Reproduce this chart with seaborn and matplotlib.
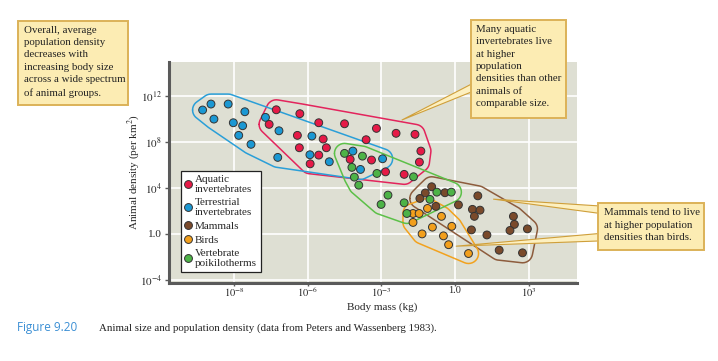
import numpy as np
import pandas as pd
import matplotlib.pyplot as plt
import matplotlib.patches as mpatches
import seaborn as sns

# values: log10 body mass (kg), log10 density (per km^2)
aquatic_mass = [-7.28, -6.32, -7.57, -5.55, -4.50, -3.20, -2.40, -1.63, -6.42, -5.37, -3.62,
                -6.34, -5.24, -5.55, -5.90, -4.27, -3.40, -1.39, -1.45, -2.83, -2.07]
aquatic_dens = [10.80, 10.46, 9.53, 9.67, 9.58, 9.18, 8.75, 8.66, 8.57, 8.25, 8.19,
                7.49, 7.49, 6.85, 6.09, 6.48, 6.42, 7.20, 6.24, 5.39, 5.17]

terrestrial_mass = [-10.28, -9.94, -9.24, -9.82, -8.56, -9.03, -8.65, -8.81, -8.31, -7.72, -7.17,
                    -7.22, -5.83, -5.91, -5.12, -4.16, -3.85, -2.95]
terrestrial_dens = [10.78, 11.30, 11.30, 9.99, 10.63, 9.67, 9.41, 8.57, 7.79, 10.14, 8.97,
                    6.65, 8.51, 6.88, 6.27, 7.20, 5.60, 6.53]

mammal_mass = [-0.95, -1.21, -0.41, -1.43, -0.78, 0.14, 0.93, 0.71, 1.02, 0.79, 2.38, 2.42,
               2.24, 2.95, 0.67, 1.30, 1.80, 2.75]
mammal_dens = [4.09, 3.55, 3.57, 3.07, 2.38, 2.51, 3.30, 2.12, 2.05, 1.51, 1.51, 0.81,
               0.28, 0.42, 0.33, -0.11, -1.44, -1.67]

bird_mass = [-1.71, -1.46, -1.12, -1.71, -0.55, -0.92, -0.13, -1.34, -0.47, -0.26, 0.55]
bird_dens = [1.76, 1.76, 2.20, 0.98, 1.51, 0.57, 0.64, -0.02, -0.19, -0.96, -1.73]

poikilo_mass = [-4.50, -3.77, -4.20, -4.10, -3.92, -3.18, -1.69, -2.73, -2.07, -3.01, -0.74,
                -0.15, -1.02, -1.96]
poikilo_dens = [7.00, 6.76, 5.78, 4.93, 4.23, 5.25, 4.96, 3.36, 2.69, 2.55, 3.62,
                3.62, 2.99, 1.76]

groups = ['Aquatic invertebrates', 'Terrestrial invertebrates', 'Mammals', 'Birds',
          'Vertebrate poikilotherms']
legend_labels = ['Aquatic\ninvertebrates', 'Terrestrial\ninvertebrates', 'Mammals', 'Birds',
                 'Vertebrate\npoikilotherms']
point_colors = ['#e61a47', '#1b98d3', '#7a4a2b', '#f29f1c', '#4db347']
line_colors = ['#e3245c', '#2a9fd8', '#8d5c3d', '#f2a21e', '#5cc048']

x_ticks = [1e-9, 1e-6, 1e-3, 1.0, 1e3]
x_ticklabels = ['$10^{-8}$', '$10^{-6}$', '$10^{-3}$', '1.0', '$10^{3}$']
y_ticks = [1e12, 1e8, 1e4, 1.0, 1e-4]
y_ticklabels = ['$10^{12}$', '$10^{8}$', '$10^{4}$', '1.0', '$10^{-4}$']

masses = [aquatic_mass, terrestrial_mass, mammal_mass, bird_mass, poikilo_mass]
dens = [aquatic_dens, terrestrial_dens, mammal_dens, bird_dens, poikilo_dens]

df = pd.concat([pd.DataFrame({'group': g, 'mass': 10.0 ** np.array(m), 'density': 10.0 ** np.array(d)})
                for g, m, d in zip(groups, masses, dens)], ignore_index=True)

sns.set_style('darkgrid', {'axes.facecolor': '#dedfd3', 'grid.color': 'white'})
plt.rcParams['font.family'] = ['Liberation Serif', 'DejaVu Serif']
plt.rcParams['mathtext.fontset'] = 'stix'

fig = plt.figure(figsize=(7.18, 3.61), dpi=100)
fig.patch.set_facecolor('white')
ax = fig.add_axes([169 / 718, 1 - 283 / 361, 408 / 718, 220.7 / 361])


def rounded_hull(lx, ly, rx=0.41, ry=0.87, n=32):
    # convex hull of the group, padded with an ellipse round each point
    t = np.linspace(0, 2 * np.pi, n, endpoint=False)
    px = (np.array(lx)[:, None] + rx * np.cos(t)).ravel()
    py = (np.array(ly)[:, None] + ry * np.sin(t)).ravel()
    pts = sorted(set(zip(np.round(px, 6), np.round(py, 6))))

    def cross(o, a, b):
        return (a[0] - o[0]) * (b[1] - o[1]) - (a[1] - o[1]) * (b[0] - o[0])

    lower, upper = [], []
    for p in pts:
        while len(lower) >= 2 and cross(lower[-2], lower[-1], p) <= 0:
            lower.pop()
        lower.append(p)
    for p in reversed(pts):
        while len(upper) >= 2 and cross(upper[-2], upper[-1], p) <= 0:
            upper.pop()
        upper.append(p)
    hull = lower[:-1] + upper[:-1]
    hull.append(hull[0])
    hx, hy = zip(*hull)
    return 10.0 ** np.array(hx), 10.0 ** np.array(hy)


for m, d, c in zip(masses, dens, line_colors):
    hx, hy = rounded_hull(m, d)
    ax.plot(hx, hy, color=c, lw=1.1, zorder=2)

sns.scatterplot(data=df, x='mass', y='density', hue='group', hue_order=groups,
                palette=point_colors, s=32, edgecolor='#333333', linewidth=0.7,
                zorder=3, ax=ax)

ax.set_xscale('log')
ax.set_yscale('log')
ax.set_xlim(10 ** -11.65, 10 ** 4.97)
ax.set_ylim(10 ** -4.3, 10 ** 14.94)
ax.set_xticks(x_ticks)
ax.set_xticklabels(x_ticklabels)
ax.set_yticks(y_ticks)
ax.set_yticklabels(y_ticklabels)
ax.minorticks_off()
ax.grid(True, color='white', lw=1.2)
ax.set_xlabel('')
ax.set_ylabel('')
for side in ['top', 'right']:
    ax.spines[side].set_visible(False)
for side in ['left', 'bottom']:
    ax.spines[side].set_visible(True)
    ax.spines[side].set_color('#5a5a5a')
    ax.spines[side].set_linewidth(2.2)
ax.tick_params(axis='y', which='major', direction='out', length=3, width=1,
               color='#5a5a5a', labelsize=8, pad=2, left=True)
ax.tick_params(axis='x', which='major', direction='out', length=2, width=1,
               color='#5a5a5a', labelsize=7.5, pad=0, bottom=True)

handles, _ = ax.get_legend_handles_labels()
leg = ax.legend(handles, legend_labels, loc='lower left', bbox_to_anchor=(0.029, 0.05),
                borderaxespad=0, frameon=True, fancybox=False, facecolor='white',
                edgecolor='#222222', framealpha=1, fontsize=8, handlelength=0.6,
                handletextpad=0.3, labelspacing=0.35, borderpad=0.35)
leg.get_frame().set_linewidth(0.9)

fig.text(382 / 718, 1 - 307.5 / 361, 'Body mass (kg)', ha='center', va='center', fontsize=8)
fig.text(134 / 718, 1 - 172 / 361, 'Animal density (per km$^2$)', ha='center', va='center',
         rotation=90, fontsize=8)

box_fc = '#fcecb3'
box_ec = '#dcb258'

# pointers (wide end hidden under the boxes)
pointers = [((10 ** -2.16, 10 ** 9.91), (476, 361 - 86)),
            ((10 ** 1.57, 10 ** 3.01), (603, 361 - 210)),
            ((10 ** 0.05, 10 ** -1.09), (603, 361 - 237))]
for tip, base in pointers:
    ax.annotate('', xy=tip, xycoords='data', xytext=base, textcoords='figure pixels',
                annotation_clip=False,
                arrowprops=dict(arrowstyle='wedge,tail_width=0.55,shrink_factor=0.5',
                                mutation_scale=10, fc='#fdf0c0', ec='#cf9f3a', lw=0.8,
                                shrinkA=0, shrinkB=0), zorder=5)

boxes = [
    (18.3, 20.7, 128.3, 105.3, 24,
     'Overall, average\npopulation density\ndecreases with\nincreasing body size\n'
     'across a wide spectrum\nof animal groups.'),
    (471, 20, 565.7, 118, 476,
     'Many aquatic\ninvertebrates live\nat higher\npopulation\ndensities than other\n'
     'animals of\ncomparable size.'),
    (598, 203.3, 704.3, 250, 604,
     'Mammals tend to live\nat higher population\ndensities than birds.'),
]
for x0, y0, x1, y1, tx, txt in boxes:
    fig.add_artist(mpatches.Rectangle((x0 / 718, 1 - y1 / 361), (x1 - x0) / 718, (y1 - y0) / 361,
                                      transform=fig.transFigure, fc=box_fc, ec=box_ec,
                                      lw=1.4, zorder=10))
    fig.text(tx / 718, 1 - (y0 + 5) / 361, txt, ha='left', va='top', fontsize=7.8,
             linespacing=1.48, color='#222222', zorder=11)

fig.text(17 / 718, 1 - 328 / 361, 'Figure 9.20', ha='left', va='center', fontsize=8.5,
         color='#3b8fd4', family=['Open Sans', 'DejaVu Sans'])
fig.text(99 / 718, 1 - 328 / 361,
         'Animal size and population density (data from Peters and Wassenberg 1983).',
         ha='left', va='center', fontsize=7.8, color='#222222')

fig.savefig('out.png', dpi=100)
